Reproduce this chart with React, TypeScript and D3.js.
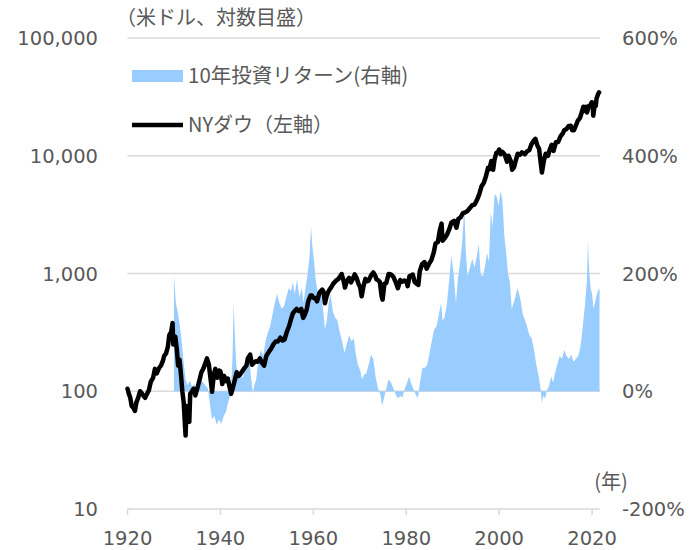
import React, { useEffect, useRef } from 'react';
import * as d3 from 'd3';

// NYダウ（左軸） year / value
const dowYears = [
  1920.0, 1920.3, 1920.6, 1920.9, 1921.3, 1921.6, 1921.9, 1922.3, 1922.7, 1923.0, 1923.4, 1923.8,
  1924.2, 1924.6, 1925.0, 1925.5, 1925.9, 1926.3, 1926.8, 1927.2, 1927.6, 1927.9, 1928.3, 1928.7,
  1929.0, 1929.4, 1929.7, 1929.85, 1930.0, 1930.3, 1930.6, 1930.9, 1931.2, 1931.5, 1931.8, 1932.1,
  1932.5, 1932.7, 1933.0, 1933.3, 1933.5, 1933.9, 1934.2, 1934.6, 1935.0, 1935.4, 1935.9, 1936.3,
  1936.8, 1937.1, 1937.5, 1937.9, 1938.2, 1938.6, 1938.9, 1939.3, 1939.7, 1940.0, 1940.4, 1940.8,
  1941.2, 1941.6, 1941.9, 1942.3, 1942.7, 1943.0, 1943.5, 1943.9, 1944.3, 1944.8, 1945.2, 1945.6,
  1945.9, 1946.4, 1946.8, 1947.2, 1947.6, 1948.0, 1948.5, 1948.9, 1949.4, 1949.9, 1950.4, 1950.9,
  1951.4, 1951.9, 1952.4, 1952.9, 1953.4, 1953.8, 1954.3, 1954.8, 1955.2, 1955.6, 1956.0, 1956.4,
  1956.9, 1957.4, 1957.8, 1958.2, 1958.6, 1958.9, 1959.4, 1959.7, 1960.0, 1960.4, 1960.8, 1961.3,
  1961.9, 1962.2, 1962.5, 1962.9, 1963.3, 1963.8, 1964.3, 1964.9, 1965.4, 1965.9, 1966.1, 1966.5,
  1966.8, 1967.2, 1967.7, 1968.1, 1968.5, 1968.9, 1969.3, 1969.7, 1970.1, 1970.4, 1970.8, 1971.2,
  1971.6, 1971.9, 1972.4, 1972.9, 1973.3, 1973.6, 1973.9, 1974.3, 1974.7, 1974.9, 1975.3, 1975.7,
  1976.2, 1976.7, 1977.2, 1977.7, 1978.2, 1978.7, 1979.1, 1979.6, 1980.0, 1980.3, 1980.7, 1981.0,
  1981.4, 1981.8, 1982.2, 1982.6, 1982.9, 1983.4, 1983.9, 1984.4, 1984.9, 1985.4, 1985.9, 1986.3,
  1986.8, 1987.2, 1987.6, 1987.8, 1988.3, 1988.8, 1989.3, 1989.7, 1990.3, 1990.8, 1991.2, 1991.7,
  1992.2, 1992.7, 1993.2, 1993.7, 1994.2, 1994.7, 1995.2, 1995.7, 1996.2, 1996.7, 1997.2, 1997.6,
  1997.9, 1998.3, 1998.7, 1999.0, 1999.4, 1999.7, 2000.0, 2000.3, 2000.7, 2001.2, 2001.7, 2002.0,
  2002.5, 2002.8, 2003.2, 2003.6, 2004.0, 2004.5, 2004.9, 2005.5, 2006.0, 2006.5, 2006.9, 2007.4,
  2007.8, 2008.2, 2008.6, 2008.9, 2009.2, 2009.6, 2010.0, 2010.5, 2010.9, 2011.3, 2011.7, 2012.2,
  2012.7, 2013.2, 2013.7, 2014.0, 2014.5, 2014.9, 2015.4, 2015.7, 2016.1, 2016.5, 2016.9, 2017.4,
  2017.9, 2018.1, 2018.3, 2018.7, 2018.9, 2019.3, 2019.7, 2019.9, 2020.1, 2020.25, 2020.5, 2020.8,
  2020.95, 2021.3, 2021.5,
];
const dowValues = [
  105, 95, 88, 75, 72, 68, 80, 88, 100, 97, 92, 88,
  95, 102, 120, 130, 155, 142, 158, 165, 180, 200, 210, 240,
  300, 320, 380, 250, 255, 290, 230, 165, 185, 140, 100, 80,
  42, 75, 58, 55, 95, 100, 105, 92, 105, 120, 145, 155,
  175, 190, 170, 125, 99, 140, 155, 130, 150, 148, 115, 135,
  122, 128, 112, 95, 108, 120, 145, 135, 140, 150, 158, 165,
  190, 205, 168, 175, 180, 178, 190, 175, 165, 200, 215, 230,
  250, 265, 265, 285, 270, 275, 320, 360, 410, 460, 480, 500,
  480, 500, 420, 450, 500, 580, 650, 650, 620, 620, 580, 680,
  730, 700, 560, 650, 710, 760, 820, 870, 900, 960, 990, 870,
  760, 860, 920, 840, 900, 985, 920, 820, 760, 640, 780, 900,
  860, 870, 960, 1020, 960, 890, 880, 850, 640, 600, 820, 830,
  990, 980, 940, 850, 750, 880, 850, 870, 860, 780, 950, 960,
  980, 850, 820, 800, 1040, 1200, 1250, 1100, 1210, 1300, 1500, 1800,
  1850, 2300, 2650, 1900, 2000, 2150, 2400, 2700, 2800, 2450, 2900, 3000,
  3250, 3300, 3400, 3600, 3800, 3850, 4200, 4700, 5500, 5900, 6800, 7900,
  7700, 9000, 7600, 9300, 10600, 10700, 11300, 10300, 10800, 10200, 8900, 10000,
  9000, 7600, 8000, 9200, 10400, 10200, 10700, 10300, 10900, 11200, 12400, 13400,
  13900, 12300, 11400, 9000, 7200, 9000, 10400, 10000, 11300, 12400, 11000, 13000,
  13100, 14600, 15500, 16500, 16900, 17800, 18000, 16500, 16500, 18000, 19800, 21000,
  24200, 26100, 24100, 26000, 23300, 26500, 27000, 28500, 28300, 21900, 25800, 26500,
  30600, 33500, 34500,
];

// 10年投資リターン（右軸） year / %
const retYears = [
  1930.0, 1930.15, 1930.4, 1930.8, 1931.2, 1931.6, 1932.0, 1932.5, 1932.9, 1933.4, 1933.9, 1934.4,
  1934.9, 1935.4, 1935.9, 1936.4, 1936.9, 1937.3, 1937.8, 1938.2, 1938.7, 1939.2, 1939.7, 1940.2,
  1940.7, 1941.2, 1941.7, 1942.2, 1942.6, 1942.85, 1943.1, 1943.4, 1943.8, 1944.3, 1944.8, 1945.3,
  1945.8, 1946.3, 1946.6, 1947.0, 1947.3, 1947.7, 1948.2, 1948.7, 1949.2, 1949.7, 1950.2, 1950.7,
  1951.2, 1951.7, 1952.2, 1952.7, 1953.2, 1953.7, 1954.2, 1954.7, 1955.2, 1955.6, 1956.0, 1956.5,
  1957.0, 1957.5, 1957.9, 1958.3, 1958.7, 1959.2, 1959.5, 1959.8, 1960.1, 1960.5, 1960.9, 1961.3,
  1961.8, 1962.2, 1962.5, 1962.9, 1963.3, 1963.7, 1964.2, 1964.7, 1965.2, 1965.7, 1966.2, 1966.7,
  1967.2, 1967.7, 1968.2, 1968.7, 1969.2, 1969.6, 1970.1, 1970.5, 1970.9, 1971.4, 1971.9, 1972.4,
  1972.9, 1973.4, 1973.9, 1974.4, 1974.8, 1975.2, 1975.7, 1976.2, 1976.7, 1977.2, 1977.7, 1978.2,
  1978.7, 1979.2, 1979.7, 1980.2, 1980.6, 1981.0, 1981.5, 1982.0, 1982.5, 1983.0, 1983.5, 1984.0,
  1984.5, 1985.0, 1985.5, 1986.0, 1986.5, 1987.0, 1987.5, 1987.8, 1988.2, 1988.7, 1989.2, 1989.7,
  1990.2, 1990.7, 1991.1, 1991.6, 1992.0, 1992.5, 1992.8, 1993.2, 1993.7, 1994.2, 1994.7, 1995.2,
  1995.6, 1996.0, 1996.5, 1997.0, 1997.4, 1997.8, 1998.2, 1998.6, 1999.0, 1999.5, 1999.9, 2000.3,
  2000.7, 2001.1, 2001.5, 2001.9, 2002.3, 2002.7, 2003.1, 2003.5, 2003.9, 2004.3, 2004.7, 2005.1,
  2005.6, 2006.0, 2006.5, 2007.0, 2007.5, 2008.0, 2008.5, 2008.9, 2009.2, 2009.5, 2009.9, 2010.3,
  2010.7, 2011.2, 2011.6, 2012.0, 2012.5, 2013.0, 2013.5, 2014.0, 2014.5, 2015.0, 2015.5, 2016.0,
  2016.5, 2017.0, 2017.5, 2018.0, 2018.5, 2018.9, 2019.1, 2019.4, 2019.7, 2020.0, 2020.3, 2020.6,
  2020.9, 2021.2, 2021.6,
];
const retValues = [
  195, 180, 150, 135, 115, 90, 55, 20, 10, 18, 8, 12,
  2, 6, 18, 14, 8, 5, -25, -48, -42, -57, -48, -55,
  -42, -35, -18, -5, 55, 150, 95, 45, 28, 32, 22, 38,
  52, 48, 22, -3, 10, 20, 55, 70, 60, 85, 100, 110,
  130, 150, 165, 150, 140, 145, 160, 175, 170, 185, 165, 190,
  160, 175, 150, 175, 195, 230, 280, 245, 225, 190, 170, 175,
  160, 130, 105, 120, 150, 165, 135, 125, 120, 100, 85, 65,
  80, 95, 85, 90, 60, 45, 35, 20, 28, 30, 45, 62,
  55, 25, 5, -5, -25, -12, 5, 20, 15, 5, -5, -12,
  -8, -10, 5, 15, 25, 15, 5, -5, -12, 18, 40, 40,
  45, 65, 85, 105, 110, 130, 150, 120, 125, 145, 185, 230,
  200, 150, 190, 220, 250, 310, 240, 195, 210, 225, 210, 230,
  250, 200, 195, 215, 235, 220, 305, 280, 335, 330, 315, 340,
  325, 265, 235, 200, 185, 140, 150, 160, 175, 165, 150, 130,
  120, 110, 95, 90, 70, 45, 25, 5, -20, -8, -12, 2,
  8, 25, 15, 30, 45, 60, 55, 70, 60, 55, 62, 50,
  55, 60, 75, 110, 150, 190, 255, 200, 175, 165, 140, 150,
  160, 170, 175,
];

const leftTicks = [10, 100, 1000, 10000, 100000];
const rightTicks = [-200, 0, 200, 400, 600];
const yearTicks = [1920, 1940, 1960, 1980, 2000, 2020];

const App: React.FC = () => {
  const svgRef = useRef<SVGSVGElement | null>(null);

  useEffect(() => {
    if (!svgRef.current) return;
    const W = 697;
    const H = 550;
    const svg = d3.select(svgRef.current).attr('width', W).attr('height', H);
    svg.selectAll('*').remove();

    const jpFont = '"Noto Sans CJK JP", "Noto Sans", sans-serif';
    const numFont = '"DejaVu Sans", "Noto Sans", sans-serif';
    const textColor = '#595959';
    const gridColor = '#d9d9d9';

    const x = d3.scaleLinear().domain([1920, 2021.7]).range([127.5, 600]);
    const yL = d3.scaleLog().domain([10, 100000]).range([509, 38]);
    const yR = d3.scaleLinear().domain([-200, 600]).range([509, 38]);

    // grid
    svg
      .append('g')
      .selectAll('line')
      .data(leftTicks)
      .join('line')
      .attr('x1', x(1920))
      .attr('x2', x(2021.7))
      .attr('y1', d => yL(d))
      .attr('y2', d => yL(d))
      .attr('stroke', gridColor)
      .attr('stroke-width', 1.5);

    // x ticks
    svg
      .append('g')
      .selectAll('line')
      .data(yearTicks)
      .join('line')
      .attr('x1', d => x(d))
      .attr('x2', d => x(d))
      .attr('y1', yL(10))
      .attr('y2', yL(10) + 6)
      .attr('stroke', gridColor)
      .attr('stroke-width', 1.5);

    // return area
    const retData = retYears.map((yr, i) => ({ yr, v: retValues[i] }));
    const area = d3
      .area<{ yr: number; v: number }>()
      .x(d => x(d.yr))
      .y0(yR(0))
      .y1(d => yR(d.v));
    svg
      .append('path')
      .datum(retData)
      .attr('d', area)
      .attr('fill', '#99CCFF');

    // dow line
    const dowData = dowYears.map((yr, i) => ({ yr, v: dowValues[i] }));
    const line = d3
      .line<{ yr: number; v: number }>()
      .x(d => x(d.yr))
      .y(d => yL(d.v));
    svg
      .append('path')
      .datum(dowData)
      .attr('d', line)
      .attr('fill', 'none')
      .attr('stroke', '#000')
      .attr('stroke-width', 4.5)
      .attr('stroke-linejoin', 'round')
      .attr('stroke-linecap', 'round');

    // left labels
    svg
      .append('g')
      .selectAll('text')
      .data(leftTicks)
      .join('text')
      .attr('x', 98)
      .attr('y', d => yL(d))
      .attr('dy', '0.36em')
      .attr('text-anchor', 'end')
      .attr('font-family', numFont)
      .attr('font-size', 19.5)
      .attr('fill', textColor)
      .text(d => d3.format(',')(d));

    // right labels
    svg
      .append('g')
      .selectAll('text')
      .data(rightTicks)
      .join('text')
      .attr('x', 622)
      .attr('y', d => yR(d))
      .attr('dy', '0.36em')
      .attr('font-family', numFont)
      .attr('font-size', 19.5)
      .attr('fill', textColor)
      .text(d => `${d}%`);

    // year labels
    svg
      .append('g')
      .selectAll('text')
      .data(yearTicks)
      .join('text')
      .attr('x', d => x(d))
      .attr('y', 538)
      .attr('dy', '0.36em')
      .attr('text-anchor', 'middle')
      .attr('font-family', numFont)
      .attr('font-size', 19.5)
      .attr('fill', textColor)
      .text(d => String(d));

    svg
      .append('text')
      .attr('x', 611)
      .attr('y', 482)
      .attr('dy', '0.35em')
      .attr('text-anchor', 'middle')
      .attr('font-family', jpFont)
      .attr('font-size', 20)
      .attr('fill', textColor)
      .text('(年)');

    svg
      .append('text')
      .attr('x', 116)
      .attr('y', 18)
      .attr('dy', '0.35em')
      .attr('font-family', jpFont)
      .attr('font-size', 20)
      .attr('fill', textColor)
      .text('（米ドル、対数目盛）');

    // legend
    svg
      .append('rect')
      .attr('x', 132)
      .attr('y', 70)
      .attr('width', 51)
      .attr('height', 12)
      .attr('fill', '#99CCFF');
    svg
      .append('text')
      .attr('x', 188)
      .attr('y', 76)
      .attr('dy', '0.35em')
      .attr('font-family', jpFont)
      .attr('font-size', 20.5)
      .attr('fill', textColor)
      .text('10年投資リターン(右軸)');
    svg
      .append('line')
      .attr('x1', 132)
      .attr('x2', 183)
      .attr('y1', 125)
      .attr('y2', 125)
      .attr('stroke', '#000')
      .attr('stroke-width', 4.5);
    svg
      .append('text')
      .attr('x', 188)
      .attr('y', 125)
      .attr('dy', '0.35em')
      .attr('font-family', jpFont)
      .attr('font-size', 20)
      .attr('fill', textColor)
      .text('NYダウ（左軸）');
  }, []);

  return (
    <div style={{ position: 'absolute', left: 0, top: 0, width: 697, height: 550, background: '#fff' }}>
      <svg ref={svgRef} style={{ display: 'block' }} />
    </div>
  );
};

export default App;
